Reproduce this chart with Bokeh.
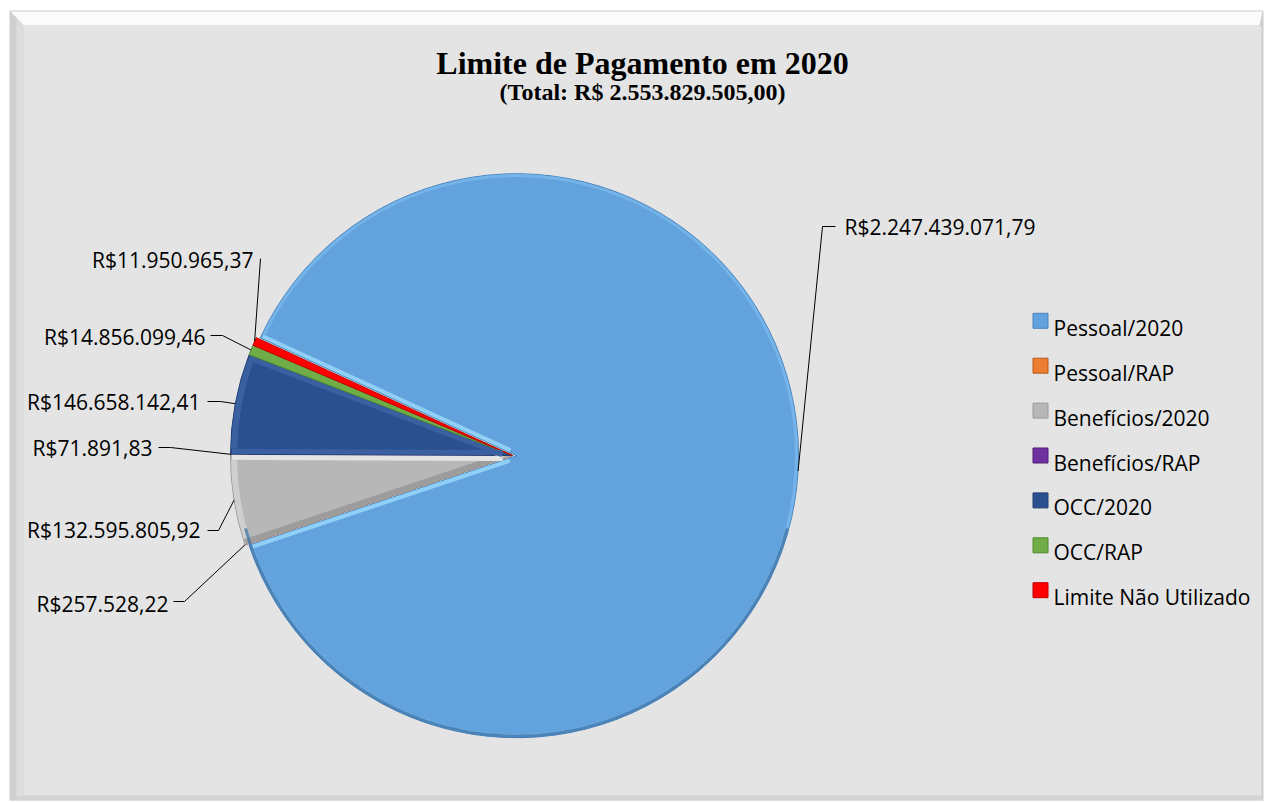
import math
import numpy as np
from bokeh.plotting import figure
from bokeh.models import Range1d, ColumnDataSource
from bokeh.core.properties import value
from bokeh.embed import file_html
from bokeh.resources import INLINE

# ---------------- data ----------------
categories = ["Pessoal/2020", "Pessoal/RAP", "Benefícios/2020", "Benefícios/RAP",
              "OCC/2020", "OCC/RAP", "Limite Não Utilizado"]
values = [2247439071.79, 257528.22, 132595805.92, 71891.83,
          146658142.41, 14856099.46, 11950965.37]
title_text = "Limite de Pagamento em 2020"

# ---------------- style ----------------
colors = ["#62a3de", "#ed7d31", "#b7b7b7", "#7030a0", "#2b5090", "#70ad47", "#ff0000"]
rim_colors = ["#74b4e8", "#f29a5c", "#cfcfcf", "#8a4fb8", "#3a60a2", "#8cc46a", "#ff4040"]
start_edge_colors = ["#90d0f6", "#f29a5c", "#9c9c9c", "#8a4fb8", "#3a60a2", "#8cc46a", "#ff4040"]
end_edge_colors = ["#90d0f6", "#f29a5c", "#e4e4e4", "#8a4fb8", "#3a60a2", "#8cc46a", "#ff4040"]
edge_colors = ["#4a83bd", "#b65a1c", "#9a9a9a", "#4e1f73", "#223f73", "#4f8a2e", "#c00000"]
rim_width = [3, 0, 6, 0, 6, 0, 0]
cut_width = [4, 0, 5, 0, 5, 0, 0]
explode = [4, 0, 0, 0, 0, 0, 0]

# layout (page pixel coordinates)
W, H = 1265, 803
cx, cy, R = 512, 455, 282
first_slice_angle = 294.7  # degrees, clockwise from 12 o'clock (Excel style)
label_x = [844, 168, 200, 152, 200, 205, 253]
label_base = [226, 603, 529, 447, 401, 336, 259]
leader_start = [(835, 226), (173, 601), (207, 530), (158, 447), (207, 401), (210, 335), (260, 258)]
leader_elbow = [(822, 226), (184, 601), (218, 530), (170, 447), (220, 401), (222, 335), (260, 258)]
legend_x, legend_base0, legend_step = 1040, 327.3, 44.9


def br(v):
    s = f"{v:,.2f}"
    return s.replace(",", "X").replace(".", ",").replace("X", ".")


total = sum(values)
subtitle_text = f"(Total: R$ {br(total)})"
labels = ["R$" + br(v) for v in values]

p = figure(width=W, height=H, output_backend="svg", toolbar_location=None,
           x_range=Range1d(0, W), y_range=Range1d(-H, 0),
           min_border=0)
p.axis.visible = False
p.grid.visible = False
p.outline_line_color = None
p.background_fill_color = "white"
p.border_fill_color = "white"

# ---------------- chart box with bevel ----------------
p.quad(left=[9], right=[1263], top=[-10], bottom=[-800], fill_color="#cdcdcd", line_color=None)
p.patch([10, 1262, 1259, 23], [-11, -11, -25, -25], fill_color="#fbfbfb", line_color=None)
p.patch([10, 23, 23, 10], [-11, -25, -796, -798], fill_color="#d0d0d0", line_color=None)
p.patch([16, 23, 23, 16], [-18, -25, -796, -797], fill_color="#dcdcdc", line_color=None)
p.patch([23, 1261, 1263, 9], [-795, -795, -800, -800], fill_color="#d3d3d3", line_color=None)
p.quad(left=[23], right=[1261], top=[-25], bottom=[-795], fill_color="#e4e4e4", line_color=None)

# ---------------- pie ----------------
vals = np.array(values, dtype=float)
frac = vals / vals.sum()
cum = np.concatenate([[0.0], np.cumsum(frac)])
a0 = math.radians(90.0 - first_slice_angle)
start = a0 - 2 * math.pi * cum[:-1]
end = a0 - 2 * math.pi * cum[1:]
mid = (start + end) / 2
ex = np.array(explode, dtype=float)
xc = cx + ex * np.cos(mid)
yc = -cy + ex * np.sin(mid)

src = ColumnDataSource(dict(x=xc, y=yc, start=start, end=end, color=colors,
                            edge=edge_colors, name=categories))
p.wedge(x="x", y="y", radius=R, start_angle="start", end_angle="end",
        direction="clock", fill_color="color", line_color="edge", line_width=1,
        source=src)

# bevel: lighter rim along the outer arc
rw = np.array(rim_width, dtype=float)
cw = np.array(cut_width, dtype=float)
keep = rw > 0
rim_src = ColumnDataSource(dict(
    x=xc[keep], y=yc[keep], r=(R - rw / 2 - 0.5)[keep],
    start=(start - (cw + 1) / R)[keep], end=(end + (cw + 1) / R)[keep],
    w=rw[keep], color=np.array(rim_colors)[keep]))
p.arc(x="x", y="y", radius="r", start_angle="start", end_angle="end",
      direction="clock", line_color="color", line_width="w", source=rim_src)

# bevel: highlight strips along the two cut edges
seg = dict(x0=[], y0=[], x1=[], y1=[], w=[], color=[])
for i in np.where(keep)[0]:
    for ang, sgn, col in ((start[i], -1, start_edge_colors[i]), (end[i], 1, end_edge_colors[i])):
        # perpendicular pointing into the slice
        px_, py_ = -math.sin(ang) * sgn, math.cos(ang) * sgn
        off = cw[i] / 2 + 0.5
        tip = 2 * cw[i]
        seg["x0"].append(xc[i] + tip * math.cos(ang) + off * px_)
        seg["y0"].append(yc[i] + tip * math.sin(ang) + off * py_)
        seg["x1"].append(xc[i] + (R - 1.5) * math.cos(ang) + off * px_)
        seg["y1"].append(yc[i] + (R - 1.5) * math.sin(ang) + off * py_)
        seg["w"].append(cw[i])
        seg["color"].append(col)
p.segment(x0="x0", y0="y0", x1="x1", y1="y1", line_width="w", line_color="color",
          source=ColumnDataSource(seg))

# soft shadow along the lower rim of the large slice
p.arc(x=[xc[0]], y=[yc[0]], radius=R - 1.5, start_angle=math.radians(-15),
      end_angle=math.radians(-165), direction="clock", line_color="#3f74a8",
      line_width=3, line_alpha=0.75)

# ---------------- leader lines ----------------
xs, ys = [], []
for i in range(len(values)):
    exx = xc[i] + R * math.cos(mid[i])
    eyy = yc[i] + R * math.sin(mid[i])
    (sx, sy), (bx, by) = leader_start[i], leader_elbow[i]
    xs.append([sx, bx, exx])
    ys.append([-sy, -by, eyy])
p.multi_line(xs=xs, ys=ys, line_color="#000000", line_width=1)

# ---------------- data labels ----------------
lab_y = [-b for b in label_base]
p.text(x=[label_x[0]], y=[lab_y[0]], text=[labels[0]], text_font=value("Open Sans"),
       text_font_size="21px", text_align="left", text_baseline="alphabetic",
       text_color="#000000")
p.text(x=label_x[1:], y=lab_y[1:], text=labels[1:], text_font=value("Open Sans"),
       text_font_size="21px", text_align="right", text_baseline="alphabetic",
       text_color="#000000")

# ---------------- legend ----------------
n = len(categories)
leg_base = [legend_base0 + i * legend_step for i in range(n)]
p.rect(x=[legend_x] * n, y=[-(b - 7) for b in leg_base], width=15, height=15,
       fill_color=colors, line_color=edge_colors, line_width=1)
p.text(x=[legend_x + 13] * n, y=[-b for b in leg_base], text=categories,
       text_font=value("Open Sans"), text_font_size="21px", text_align="left",
       text_baseline="alphabetic", text_color="#000000")

# ---------------- titles ----------------
p.text(x=[642], y=[-62], text=[title_text], text_font=value("Liberation Serif"),
       text_font_style="bold", text_font_size="32px", text_align="center",
       text_baseline="alphabetic", text_color="#000000")
p.text(x=[642], y=[-91], text=[subtitle_text], text_font=value("Liberation Serif"),
       text_font_style="bold", text_font_size="24px", text_align="center",
       text_baseline="alphabetic", text_color="#000000")

open("out.html", "w").write(file_html(p, INLINE))
